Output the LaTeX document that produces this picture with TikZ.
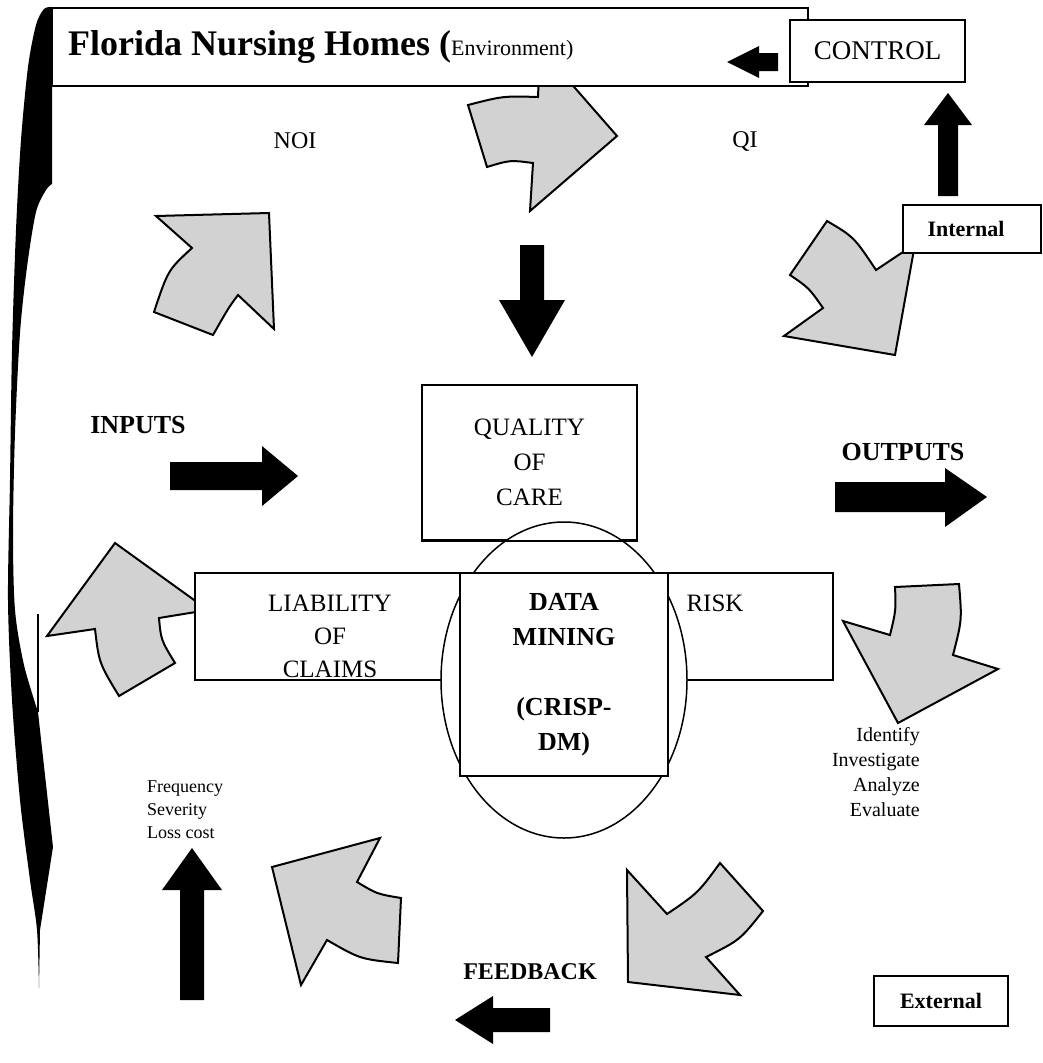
\documentclass[tikz,border=0pt]{standalone}
\usepackage{fontspec}
\setmainfont{Liberation Serif}
\usetikzlibrary{shapes.geometric}
\begin{document}
\begin{tikzpicture}[x=1pt,y=-1pt,
  garrow/.style={fill=gray!35, draw=black, line width=2pt, line join=miter},
  barrow/.style={fill=black},
  box/.style={draw=black, line width=1.5pt, fill=white, inner sep=0pt},
  lbl/.style={font=\fontsize{25}{34}\selectfont, align=center},
  blbl/.style={font=\fontsize{26}{35}\selectfont\bfseries, align=center}]
\useasboundingbox[fill=white] (0,0) rectangle (1043,1063);

% left black brace-like shape
\fill[black] (52,7) -- plot[smooth] coordinates {(52,7) (44,9) (36,25) (28,67) (21,140) (16,230) (12,350) (10,480) (8,600) (12,700) (20,800) (30,880) (37,930) (39,988)}
  -- (40,930) -- (53,847) -- (38,712)
  -- plot[smooth] coordinates {(38,712) (24,665) (15,610) (13,533) (15,433) (20,333) (27,267) (36,212) (46,190) (52,184)} -- cycle;
\draw[line width=1.5pt] (38,614) -- (38,712);

% gray curved block arrows
\draw[garrow] (156,216) -- (269,213) -- (274,329) -- (238,295) .. controls (229,307) .. (213,335) -- (154,312) .. controls (168,270) .. (192,248) -- cycle;
\draw[garrow] (468,105) .. controls (503,96) .. (538,97) -- (540,48) -- (617,136) -- (530,211) -- (533,163) .. controls (510,160) .. (487,167) -- cycle;
\draw[garrow] (827,221) .. controls (854,237) .. (876,270) -- (915,244) -- (895,355) -- (784,336) -- (823,308) .. controls (809,288) .. (790,275) -- cycle;
\draw[garrow] (895,587) -- (959,584) .. controls (962,620) .. (953,655) -- (998,669) -- (898,723) -- (843,621) -- (890,635) .. controls (896,610) .. (895,587) -- cycle;
\draw[garrow] (720,863) -- (763,911) .. controls (740,940) .. (706,957) -- (740,995) -- (628,982) -- (627,870) -- (667,914) .. controls (698,893) .. (720,863) -- cycle;
\draw[garrow] (272,867) -- (380,838) -- (357,882) .. controls (377,894) .. (401,898) -- (398,963) .. controls (360,959) .. (327,940) -- (301,985) -- cycle;
\draw[garrow] (115,543) -- (208,610) -- (159,618) .. controls (161,640) .. (175,663) -- (119,696) .. controls (99,663) .. (95,629) -- (47,636) -- cycle;

% boxes
\node[box, minimum width=756pt, minimum height=78pt] (envbox) at (430,47) {};
\node[anchor=base west, inner sep=0pt] (envtext) at (68,55) {\fontsize{36}{40}\selectfont\bfseries Florida Nursing Homes (\fontsize{22}{26}\selectfont\mdseries Environment)};
\node[box, minimum width=175pt, minimum height=62pt, font=\fontsize{27}{30}\selectfont] (control) at (877.5,51) {CONTROL};
\node[box, minimum width=138pt, minimum height=48pt] (internal) at (972,229) {};
\node[font=\fontsize{22}{26}\selectfont\bfseries] (internaltext) at (966,229) {Internal};
\node[box, minimum width=134pt, minimum height=50pt, font=\fontsize{22}{26}\selectfont\bfseries] (external) at (941,1001) {External};

\node[box, minimum width=638pt, minimum height=107pt] (wide) at (514,626.5) {};
\node[lbl, font=\fontsize{25}{33}\selectfont] (liab) at (330,636) {LIABILITY\\OF\\CLAIMS};
\node[lbl] (risk) at (715,603) {RISK};
\node[box, minimum width=215pt, minimum height=155pt, lbl, font=\fontsize{25}{35}\selectfont] (quality) at (529.5,462.5) {QUALITY\\OF\\CARE};
\node[draw=black, line width=1.5pt, fill=white, ellipse, inner sep=0pt, minimum width=246pt, minimum height=316pt] (dmell) at (564,680) {};
\draw[line width=1.5pt] (quality.south west) -- (quality.south east);
\node[box, minimum width=208pt, minimum height=203pt, blbl] (dm) at (564,674.5) {DATA\\MINING\\[35pt](CRISP-\\DM)};

% labels
\node[lbl, font=\fontsize{24}{30}\selectfont] (noi) at (295,141) {NOI};
\node[lbl, font=\fontsize{24}{30}\selectfont] (qi) at (745,141) {QI};
\node[blbl] (inputs) at (138,425) {INPUTS};
\node[blbl] (outputs) at (903,452) {OUTPUTS};
\node[blbl, font=\fontsize{24}{30}\selectfont\bfseries] (feedback) at (530,972) {FEEDBACK};
\node[font=\fontsize{18}{23}\selectfont, align=left, anchor=west, inner sep=0pt] (freq) at (147,810) {Frequency\\Severity\\Loss cost};
\node[font=\fontsize{20}{25}\selectfont, align=right, anchor=east, inner sep=0pt] (ident) at (920,772.5) {Identify\\Investigate\\Analyze\\Evaluate};

% black block arrows
\fill[barrow] (727,62) -- (759,46) -- (759,53) -- (778,53) -- (778,71) -- (759,71) -- (759,78) -- cycle;
\fill[barrow] (948,93) -- (972,125) -- (958,125) -- (958,196) -- (938,196) -- (938,125) -- (924,125) -- cycle;
\fill[barrow] (532,357) -- (565,300) -- (544,300) -- (544,245) -- (520,245) -- (520,300) -- (499,300) -- cycle;
\fill[barrow] (298,476) -- (262,446) -- (262,462) -- (170,462) -- (170,490) -- (262,490) -- (262,506) -- cycle;
\fill[barrow] (987,497) -- (945,468) -- (945,482) -- (835,482) -- (835,512) -- (945,512) -- (945,527) -- cycle;
\fill[barrow] (192,848) -- (222,890) -- (204,890) -- (204,1000) -- (180,1000) -- (180,890) -- (162,890) -- cycle;
\fill[barrow] (455,1020) -- (493,996) -- (493,1008) -- (550,1008) -- (550,1032) -- (493,1032) -- (493,1044) -- cycle;
\end{tikzpicture}
\end{document}
